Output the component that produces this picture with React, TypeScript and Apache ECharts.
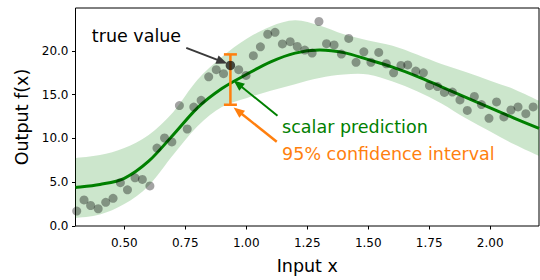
import { useEffect, useRef } from "react";
import * as echarts from "echarts";

// observed samples (gray dots)
const pointX = [
  0.305, 0.335, 0.362, 0.393, 0.424, 0.454, 0.484, 0.513, 0.544, 0.574, 0.605,
  0.634, 0.665, 0.695, 0.726, 0.758, 0.785, 0.815, 0.846, 0.877, 0.907, 0.969,
  0.999, 1.029, 1.058, 1.088, 1.118, 1.148, 1.18, 1.209, 1.24, 1.27, 1.298,
  1.329, 1.36, 1.39, 1.42, 1.45, 1.482, 1.511, 1.543, 1.574, 1.604, 1.634,
  1.662, 1.695, 1.726, 1.751, 1.784, 1.812, 1.845, 1.876, 1.906, 1.935, 1.964,
  1.995, 2.026, 2.056, 2.085, 2.114, 2.146, 2.176,
];
const pointY = [
  1.7, 2.98, 2.34, 1.97, 2.71, 3.16, 4.95, 4.13, 5.5, 5.32, 4.58,
  8.9, 10.05, 9.6, 13.76, 11.08, 13.58, 14.36, 17.04, 17.85, 17.4, 17.86,
  17.2, 19.45, 20.46, 21.9, 22.12, 20.8, 21.05, 20.5, 20.09, 19.75, 23.36,
  20.83, 20.68, 19.64, 21.43, 18.7, 19.9, 18.7, 19.83, 18.53, 17.49, 18.34,
  18.4, 17.7, 17.5, 16.03, 15.93, 15.26, 15.3, 14.4, 13.2, 14.8, 13.87,
  12.3, 14.17, 12.46, 13.25, 13.6, 12.83, 13.6,
];

// highlighted true value
const trueX = 0.935;
const trueY = 18.34;

// prediction curve and confidence band
const curveX = [0.3, 0.4, 0.5, 0.6, 0.7, 0.8, 0.9, 1.0, 1.1, 1.2, 1.3, 1.4, 1.5, 1.6, 1.7, 1.8, 1.9, 2.0, 2.1, 2.2];
const meanY = [4.4, 4.75, 5.45, 7.4, 10.4, 13.5, 15.7, 17.3, 18.75, 19.75, 20.1, 19.8, 19.0, 18.15, 17.1, 15.9, 14.7, 13.5, 12.3, 11.15];
const lowerY = [0.9, 1.3, 2.5, 4.6, 8.1, 11.4, 13.6, 14.6, 15.45, 16.2, 16.9, 17.3, 17.3, 16.5, 15.4, 14.0, 12.3, 10.8, 9.3, 8.0];
const upperY = [7.75, 8.1, 8.9, 10.4, 13.0, 16.7, 19.3, 21.35, 22.8, 23.5, 22.9, 21.9, 21.2, 20.6, 19.6, 18.5, 17.6, 16.6, 15.6, 14.3];

// error bar of the prediction at the true value
const errX = 0.935;
const errLow = 13.85;
const errHigh = 19.6;

// ticks
const xTicks = [0.5, 0.75, 1.0, 1.25, 1.5, 1.75, 2.0];
const yTicks = [0, 5, 10, 15, 20];

// annotations (data coordinates)
const labelTrue = { text: "true value", at: [0.367, 21.65] };
const labelPred = { text: "scalar prediction", at: [1.147, 11.27] };
const labelCI = { text: "95% confidence interval", at: [1.147, 8.26] };
const arrowTrue = { from: [0.754, 20.35], to: [0.922, 18.55] };
const arrowPred = { from: [1.128, 12.6], to: [0.948, 16.63] };
const arrowCI = { from: [1.125, 9.63], to: [0.948, 13.54] };

const FONT = "DejaVu Sans";

// Catmull-Rom -> cubic bezier path segments through pixel points
function smoothSegments(pts: number[][], moveFirst: boolean): string {
  let d = moveFirst ? `M${pts[0][0]},${pts[0][1]}` : `L${pts[0][0]},${pts[0][1]}`;
  for (let i = 0; i < pts.length - 1; i++) {
    const p0 = pts[Math.max(0, i - 1)];
    const p1 = pts[i];
    const p2 = pts[i + 1];
    const p3 = pts[Math.min(pts.length - 1, i + 2)];
    const c1x = p1[0] + (p2[0] - p0[0]) / 6;
    const c1y = p1[1] + (p2[1] - p0[1]) / 6;
    const c2x = p2[0] - (p3[0] - p1[0]) / 6;
    const c2y = p2[1] - (p3[1] - p1[1]) / 6;
    d += ` C${c1x},${c1y} ${c2x},${c2y} ${p2[0]},${p2[1]}`;
  }
  return d;
}

function arrowGraphic(p0: number[], p1: number[], color: string, lw: number) {
  const dx = p1[0] - p0[0];
  const dy = p1[1] - p0[1];
  const len = Math.hypot(dx, dy);
  const ux = dx / len;
  const uy = dy / len;
  const headLen = 11;
  const headW = 4.5;
  const bx = p1[0] - ux * headLen;
  const by = p1[1] - uy * headLen;
  return [
    {
      type: "line",
      z: 100,
      shape: { x1: p0[0], y1: p0[1], x2: bx + ux * 2, y2: by + uy * 2 },
      style: { stroke: color, lineWidth: lw },
    },
    {
      type: "polygon",
      z: 100,
      shape: {
        points: [
          [p1[0], p1[1]],
          [bx - uy * headW, by + ux * headW],
          [bx + uy * headW, by - ux * headW],
        ],
      },
      style: { fill: color },
    },
  ];
}

export default function App() {
  const ref = useRef<HTMLDivElement>(null);
  useEffect(() => {
    if (!ref.current) return;
    const chart = echarts.init(ref.current, undefined, { renderer: "svg" });
    const curveData = curveX.map((x, i) => [x, meanY[i], lowerY[i], upperY[i]]);
    const option: any = {
      animation: false,
      textStyle: { fontFamily: FONT },
      grid: {
        left: 75.5,
        right: 1,
        top: 8,
        bottom: 49,
        show: true,
        borderColor: "#000",
        borderWidth: 1,
        backgroundColor: "transparent",
      },
      xAxis: {
        type: "value",
        min: 0.3,
        max: 2.2,
        name: "Input x",
        nameLocation: "middle",
        nameGap: 31,
        nameTextStyle: { fontSize: 17.5, color: "#000", fontFamily: FONT },
        axisLine: { show: false },
        splitLine: { show: false },
        axisTick: {
          show: true,
          length: 3.5,
          customValues: xTicks,
          lineStyle: { color: "#000", width: 1 },
        },
        axisLabel: {
          customValues: xTicks,
          formatter: (v: number) => v.toFixed(2),
          fontSize: 12,
          color: "#000",
          margin: 11,
          fontFamily: FONT,
        },
      },
      yAxis: {
        type: "value",
        min: 0,
        max: 24.9,
        name: "Output f(x)",
        nameLocation: "middle",
        nameGap: 42,
        nameTextStyle: { fontSize: 17.5, color: "#000", fontFamily: FONT },
        axisLine: { show: false },
        splitLine: { show: false },
        axisTick: {
          show: true,
          length: 3.5,
          customValues: yTicks,
          lineStyle: { color: "#000", width: 1 },
        },
        axisLabel: {
          customValues: yTicks,
          formatter: (v: number) => v.toFixed(1),
          fontSize: 12,
          color: "#000",
          margin: 7,
          fontFamily: FONT,
        },
      },
      series: [
        {
          type: "custom",
          name: "band+mean",
          data: curveData,
          encode: { x: 0, y: [1, 2, 3] },
          silent: true,
          clip: true,
          renderItem: (params: any, api: any) => {
            if (params.dataIndex !== 0) return null;
            const mean = curveData.map((d) => api.coord([d[0], d[1]]));
            const lo = curveData.map((d) => api.coord([d[0], d[2]]));
            const up = curveData.map((d) => api.coord([d[0], d[3]]));
            const bandPath =
              smoothSegments(up, true) + " " + smoothSegments(lo.slice().reverse(), false) + " Z";
            const meanPath = smoothSegments(mean, true);
            return {
              type: "group",
              children: [
                {
                  type: "path",
                  shape: { pathData: bandPath },
                  style: { fill: "rgba(0,128,0,0.2)", stroke: "none" },
                },
                {
                  type: "path",
                  shape: { pathData: meanPath },
                  style: { fill: "none", stroke: "#008000", lineWidth: 3 },
                },
              ],
            };
          },
        },
        {
          type: "scatter",
          name: "samples",
          data: pointX.map((x, i) => [x, pointY[i]]),
          symbol: "circle",
          symbolSize: 9,
          itemStyle: { color: "rgba(0,0,0,0.45)" },
          silent: true,
        },
        {
          type: "custom",
          name: "errorbar",
          data: [[errX, errLow, errHigh]],
          encode: { x: 0, y: [1, 2] },
          silent: true,
          renderItem: (_params: any, api: any) => {
            const lo = api.coord([api.value(0), api.value(1)]);
            const hi = api.coord([api.value(0), api.value(2)]);
            const c = 6.5;
            const st = { stroke: "#ff7f0e", lineWidth: 2.5 };
            return {
              type: "group",
              children: [
                { type: "line", shape: { x1: lo[0], y1: lo[1], x2: hi[0], y2: hi[1] }, style: st },
                { type: "line", shape: { x1: lo[0] - c, y1: lo[1], x2: lo[0] + c, y2: lo[1] }, style: st },
                { type: "line", shape: { x1: hi[0] - c, y1: hi[1], x2: hi[0] + c, y2: hi[1] }, style: st },
              ],
            };
          },
        },
        {
          type: "scatter",
          name: "true",
          data: [[trueX, trueY]],
          symbol: "circle",
          symbolSize: 9.5,
          itemStyle: { color: "rgba(10,10,10,0.9)" },
          silent: true,
        },
      ],
    };
    chart.setOption(option);

    const px = (p: number[]) => chart.convertToPixel({ gridIndex: 0 }, p) as number[];
    const textEl = (t: { text: string; at: number[] }, color: string) => {
      const p = px(t.at);
      return {
        type: "text",
        z: 100,
        x: p[0],
        y: p[1],
        style: {
          text: t.text,
          fill: color,
          fontSize: 17.5,
          fontFamily: FONT,
          align: "left",
          verticalAlign: "middle",
        },
      };
    };
    const graphic: any[] = [
      textEl(labelTrue, "#000"),
      textEl(labelPred, "#008000"),
      textEl(labelCI, "#ff7f0e"),
      ...arrowGraphic(px(arrowTrue.from), px(arrowTrue.to), "#3a3a3a", 2),
      ...arrowGraphic(px(arrowPred.from), px(arrowPred.to), "#008000", 2),
      ...arrowGraphic(px(arrowCI.from), px(arrowCI.to), "#ff7f0e", 2.5),
    ];
    chart.setOption({ graphic });

    return () => chart.dispose();
  }, []);
  return (
    <div
      ref={ref}
      style={{ position: "fixed", left: 0, top: 0, width: 540, height: 280, background: "#fff" }}
    />
  );
}
